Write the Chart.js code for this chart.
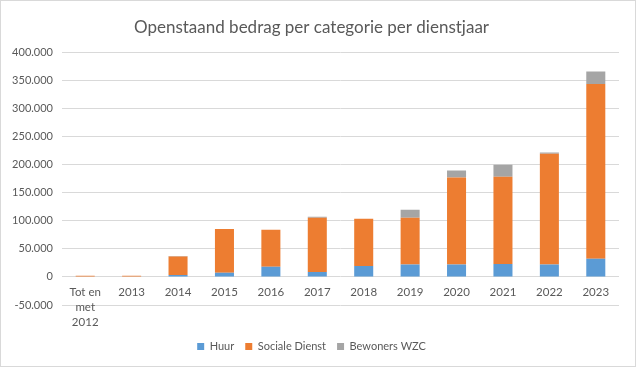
<!DOCTYPE html>
<html>
<head>
<meta charset="utf-8">
<script src="https://cdn.jsdelivr.net/npm/chart.js@4/dist/chart.umd.min.js"></script>
<style>
  html, body { margin: 0; padding: 0; background: #fff; }
  #wrap { width: 636px; height: 367px; box-sizing: border-box; border: 1px solid #d9d9d9; position: relative; }
</style>
</head>
<body>
<div id="wrap"><canvas id="chart"></canvas></div>
<script>
// ---- data ----
const categories = [['Tot en', 'met', '2012'], '2013', '2014', '2015', '2016', '2017', '2018', '2019', '2020', '2021', '2022', '2023'];
const huur = [0, 0, 3500, 7500, 18000, 9000, 19500, 22000, 22000, 23000, 22000, 32500];
const socialeDienst = [2000, 2000, 33000, 78000, 66000, 96500, 84000, 83500, 155000, 155500, 197500, 311000];
const bewonersWZC = [0, 0, 1000, 0, 0, 1700, 0, 14000, 12500, 21500, 2000, 22500];
const seriesNames = ['Huur', 'Sociale Dienst', 'Bewoners WZC'];
const seriesColors = ['#5B9BD5', '#ED7D31', '#A5A5A5'];

const FONT = "Lato, 'Open Sans', sans-serif";
const GREY_TEXT = '#595959';

function formatNL(v) {
    const s = Math.abs(v).toString().replace(/\B(?=(\d{3})+(?!\d))/g, '.');
    return (v < 0 ? '-' : '') + s;
}

// categorie-labels direct onder de nul-lijn (zoals in Excel)
const zeroLabels = {
    id: 'zeroLabels',
    afterDraw(chart) {
        const x = chart.scales.x, y = chart.scales.y;
        const ctx = chart.ctx;
        const y0 = y.getPixelForValue(0);
        ctx.save();
        ctx.fillStyle = GREY_TEXT;
        ctx.font = "11.5px " + FONT;
        ctx.textAlign = 'center';
        ctx.textBaseline = 'middle';
        chart.data.labels.forEach((lab, i) => {
            const lines = Array.isArray(lab) ? lab : [lab];
            const px = x.getPixelForValue(i);
            lines.forEach((l, j) => ctx.fillText(l, px, y0 + 15 + j * 15));
        });
        ctx.restore();
    }
};

const ds = [huur, socialeDienst, bewonersWZC].map((data, i) => ({
    label: seriesNames[i],
    data: data,
    backgroundColor: seriesColors[i],
    barPercentage: 0.41,
    categoryPercentage: 1
}));

new Chart(document.getElementById('chart'), {
    type: 'bar',
    data: { labels: categories, datasets: ds },
    plugins: [zeroLabels],
    options: {
        responsive: true,
        maintainAspectRatio: false,
        animation: false,
        layout: { padding: { left: 3, right: 16, top: 4, bottom: 4 } },
        plugins: {
            title: {
                display: true,
                text: 'Openstaand bedrag per categorie per dienstjaar',
                color: GREY_TEXT,
                font: { family: FONT, size: 17, weight: 'normal' },
                padding: { top: 12, bottom: 15 }
            },
            legend: {
                position: 'bottom',
                labels: {
                    color: GREY_TEXT,
                    font: { family: FONT, size: 11 },
                    boxWidth: 7,
                    boxHeight: 7,
                    padding: 11
                }
            },
            tooltip: { enabled: false }
        },
        scales: {
            x: {
                stacked: true,
                grid: { display: false },
                border: { display: false },
                ticks: { display: false },
                afterFit(scale) { scale.height = 25; }
            },
            y: {
                stacked: true,
                min: -50000,
                max: 400000,
                grid: { color: '#d9d9d9', drawTicks: false },
                border: { display: false },
                afterFit(scale) { scale.width = 58; },
                ticks: {
                    stepSize: 50000,
                    color: GREY_TEXT,
                    font: { family: FONT, size: 11 },
                    padding: 9,
                    callback: v => formatNL(v)
                }
            }
        }
    }
});
</script>
</body>
</html>
